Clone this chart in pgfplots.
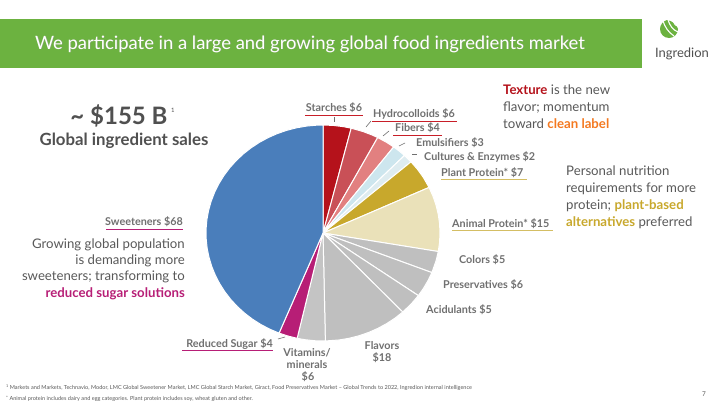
\documentclass[border=0pt]{standalone}
\usepackage{fontspec}
\setmainfont{Lato}
\usepackage{pgfplots}
\pgfplotsset{compat=1.18}
\usepgfplotslibrary{polar}
\definecolor{ingreen}{RGB}{108,178,64}
\definecolor{cstarch}{RGB}{181,18,27}
\definecolor{chydro}{RGB}{201,80,87}
\definecolor{cfiber}{RGB}{226,128,128}
\definecolor{cemul}{RGB}{205,230,238}
\definecolor{ccult}{RGB}{222,236,240}
\definecolor{cplant}{RGB}{200,168,44}
\definecolor{canimal}{RGB}{234,225,185}
\definecolor{cgray}{RGB}{191,191,191}
\definecolor{cvit}{RGB}{196,196,196}
\definecolor{csugar}{RGB}{183,30,118}
\definecolor{csweet}{RGB}{74,126,187}
\definecolor{lblgray}{RGB}{112,112,112}
\definecolor{txtgray}{RGB}{89,89,89}
\definecolor{headgray}{RGB}{80,80,80}
\definecolor{ulred}{RGB}{200,30,40}
\definecolor{ulgold}{RGB}{212,190,100}
\definecolor{corange}{RGB}{244,121,32}
\definecolor{cdarkred}{RGB}{181,18,27}
\begin{document}
\begin{tikzpicture}[x=1pt,y=1pt]
\path[fill=white] (0,0) rectangle (720,-405);
% title bar
\fill[ingreen] (0,-19) rectangle (642,-68);
\node[black!40, opacity=0.5, font=\fontsize{18.4}{22}\selectfont, anchor=base west, inner sep=0] at (35.7,-49.7) {We participate in a large and growing global food ingredients market};
\node[white, font=\fontsize{18.4}{22}\selectfont, anchor=base west, inner sep=0] at (35,-49) {We participate in a large and growing global food ingredients market};
% logo
\begin{scope}[shift={(669,-30)}]
\fill[ingreen] (-9,1) arc[start angle=180, end angle=360, radius=9] -- (9,1) .. controls (8,6) and (3,9) .. (-2,10) .. controls (-6,9) and (-9,5) .. (-9,1) -- cycle;
\draw[white, line width=1.1pt] (-6,9) .. controls (-4,3) and (-1,-2) .. (5,-6);
\draw[white, line width=1.1pt] (-1,10) .. controls (1,4) and (4,0) .. (9,-2);
\draw[white, line width=1.1pt] (4,9) .. controls (5,6) and (7,4) .. (10,3);
\end{scope}
\node[headgray, font=\fontsize{13}{15}\selectfont, anchor=base, inner sep=0] at (682,-57) {Ingredion};

\begin{axis}[at={(323pt,-233pt)}, anchor=center, scale only axis, width=234pt, height=216pt,
  xmin=-1, xmax=1, ymin=-1, ymax=1, hide axis, data cs=polar, clip=false]
% Starches 6
\addplot[fill=cstarch, draw=white, line width=1pt] coordinates {(90,0) (90,1) (85,1) (80,1) (76.065,1) (76.065,0)} -- cycle;
% Hydrocolloids 6
\addplot[fill=chydro, draw=white, line width=1pt] coordinates {(76.065,0) (76.065,1) (70,1) (65,1) (62.129,1) (62.129,0)} -- cycle;
% Fibers 4
\addplot[fill=cfiber, draw=white, line width=1pt] coordinates {(62.129,0) (62.129,1) (57,1) (52.839,1) (52.839,0)} -- cycle;
% Emulsifiers 3
\addplot[fill=cemul, draw=white, line width=1pt] coordinates {(52.839,0) (52.839,1) (49,1) (45.871,1) (45.871,0)} -- cycle;
% Cultures & Enzymes 2
\addplot[fill=ccult, draw=white, line width=1pt] coordinates {(45.871,0) (45.871,1) (43.5,1) (41.226,1) (41.226,0)} -- cycle;
% Plant Protein 7
\addplot[fill=cplant, draw=white, line width=1pt] coordinates {(41.226,0) (41.226,1) (36,1) (31,1) (24.968,1) (24.968,0)} -- cycle;
% Animal Protein 15
\addplot[fill=canimal, draw=white, line width=1pt] coordinates {(24.968,0) (24.968,1) (20,1) (15,1) (10,1) (5,1) (0,1) (-5,1) (-9.871,1) (-9.871,0)} -- cycle;
% Colors 5
\addplot[fill=cgray, draw=white, line width=1pt] coordinates {(-9.871,0) (-9.871,1) (-15,1) (-21.484,1) (-21.484,0)} -- cycle;
% Preservatives 6
\addplot[fill=cgray, draw=white, line width=1pt] coordinates {(-21.484,0) (-21.484,1) (-26,1) (-31,1) (-35.419,1) (-35.419,0)} -- cycle;
% Acidulants 5
\addplot[fill=cgray, draw=white, line width=1pt] coordinates {(-35.419,0) (-35.419,1) (-41,1) (-47.032,1) (-47.032,0)} -- cycle;
% Flavors 18
\addplot[fill=cgray, draw=white, line width=1pt] coordinates {(-47.032,0) (-47.032,1) (-52,1) (-57,1) (-62,1) (-67,1) (-72,1) (-77,1) (-82,1) (-88.839,1) (-88.839,0)} -- cycle;
% Vitamins/minerals 6
\addplot[fill=cvit, draw=white, line width=1pt] coordinates {(-88.839,0) (-88.839,1) (-94,1) (-99,1) (-102.774,1) (-102.774,0)} -- cycle;
% Reduced Sugar 4
\addplot[fill=csugar, draw=white, line width=1pt] coordinates {(-102.774,0) (-102.774,1) (-107,1) (-112.065,1) (-112.065,0)} -- cycle;
% Sweeteners 68
\addplot[fill=csweet, draw=white, line width=1pt] coordinates {(-112.065,0) (-112.065,1) (-117,1) (-122,1) (-127,1) (-132,1) (-137,1) (-142,1) (-147,1) (-152,1) (-157,1) (-162,1) (-167,1) (-172,1) (-177,1) (-182,1) (-187,1) (-192,1) (-197,1) (-202,1) (-207,1) (-212,1) (-217,1) (-222,1) (-227,1) (-232,1) (-237,1) (-242,1) (-247,1) (-252,1) (-257,1) (-262,1) (-267,1) (-270,1) (-270,0)} -- cycle;
\end{axis}

% slice labels
\tikzset{lbl/.style={lblgray, font=\bfseries\fontsize{10.8}{13}\selectfont, inner sep=0}}
\node[lbl, anchor=base] at (334,-111) {Starches \$6};
\draw[ulred, line width=0.9pt] (305,-115) -- (363,-115);
\draw[lblgray, line width=0.6pt] (334,-117) -- (334,-122);
\node[lbl, anchor=base west] at (373,-117) {Hydrocolloids \$6};
\draw[ulred, line width=0.9pt] (372,-121) -- (457,-121);
\draw[lblgray, line width=0.6pt] (366,-127) -- (371,-121);
\node[lbl, anchor=base west] at (395,-131) {Fibers \$4};
\draw[ulred, line width=0.9pt] (393,-135) -- (442,-135);
\draw[lblgray, line width=0.6pt] (383,-136) -- (389,-131);
\node[lbl, anchor=base west] at (416,-146) {Emulsifiers \$3};
\draw[lblgray, line width=0.6pt] (399,-146) -- (405,-143);
\node[lbl, anchor=base west] at (424,-160) {Cultures \& Enzymes \$2};
\draw[lblgray, line width=0.6pt] (412,-154) -- (417,-154);
\node[lbl, anchor=base west] at (441,-176) {Plant Protein* \$7};
\draw[ulgold, line width=0.9pt] (441,-179) -- (527,-179);
\node[lbl, anchor=base west] at (452,-227) {Animal Protein* \$15};
\draw[ulgold, line width=0.9pt] (452,-230) -- (553,-230);
\node[lbl, anchor=base west] at (459,-263) {Colors \$5};
\node[lbl, anchor=base west] at (443,-288) {Preservatives \$6};
\node[lbl, anchor=base west] at (426,-313) {Acidulants \$5};
\node[lbl, anchor=base] at (382,-349) {Flavors};
\node[lbl, anchor=base] at (382,-361) {\$18};
\node[lbl, anchor=base] at (307,-356) {Vitamins/};
\node[lbl, anchor=base] at (307,-368) {minerals};
\node[lbl, anchor=base] at (308,-380) {\$6};
\node[lbl, anchor=base east] at (273,-347) {Reduced Sugar \$4};
\draw[csugar, line width=0.9pt] (182,-350) -- (273,-350);
\draw[lblgray, line width=0.6pt] (278,-339) -- (285,-337);

% left text
\node[headgray, font=\bfseries\fontsize{24}{28}\selectfont, anchor=base, inner sep=0] at (119,-124) {\textasciitilde\ \$155 B};
\node[headgray, font=\fontsize{6}{7}\selectfont, anchor=base west, inner sep=0] at (171,-112) {1};
\node[headgray, font=\bfseries\fontsize{16.8}{19}\selectfont, anchor=base, inner sep=0] at (124,-145) {Global ingredient sales};
\node[lbl, anchor=base east] at (183,-225) {Sweeteners \$68};
\draw[csugar, line width=0.9pt] (106,-229) -- (183,-229);
\begin{scope}[every node/.style={txtgray, font=\fontsize{13.2}{16}\selectfont, anchor=base east, inner sep=0}]
\node at (185,-248) {Growing global population};
\node at (185,-264) {is demanding more};
\node at (185,-280) {sweeteners; transforming to};
\node at (185,-297) {\textcolor{csugar}{\bfseries reduced sugar solutions}};
\end{scope}
% right texts
\begin{scope}[every node/.style={txtgray, font=\fontsize{13.2}{16}\selectfont, anchor=base west, inner sep=0}]
\node at (503,-94) {\textcolor{cdarkred}{\bfseries Texture} is the new};
\node at (503,-111) {flavor; momentum};
\node at (503,-128) {toward \textcolor{corange}{\bfseries clean label}};
\node at (566,-175) {Personal nutrition};
\node at (566,-192) {requirements for more};
\node at (566,-209) {protein; \textcolor{cplant}{\bfseries plant-based}};
\node at (566,-226) {\textcolor{cplant}{\bfseries alternatives} preferred};
\end{scope}
% footnotes
\begin{scope}[every node/.style={txtgray, font=\fontsize{5.55}{6.5}\selectfont, anchor=base west, inner sep=0}]
\node at (6,-389) {\raisebox{1.3pt}{\fontsize{3.8}{4}\selectfont 1} Markets and Markets, Technavio, Modor, LMC Global Sweetener Market, LMC Global Starch Market, Giract, Food Preservatives Market -- Global Trends to 2022, Ingredion internal intelligence};
\node at (6,-400) {\raisebox{1pt}{\fontsize{4.5}{5}\selectfont *} Animal protein includes dairy and egg categories. Plant protein includes soy, wheat gluten and other.};
\end{scope}
\node[txtgray, font=\fontsize{6.5}{8}\selectfont, anchor=base, inner sep=0] at (704,-396) {7};
\end{tikzpicture}
\end{document}
